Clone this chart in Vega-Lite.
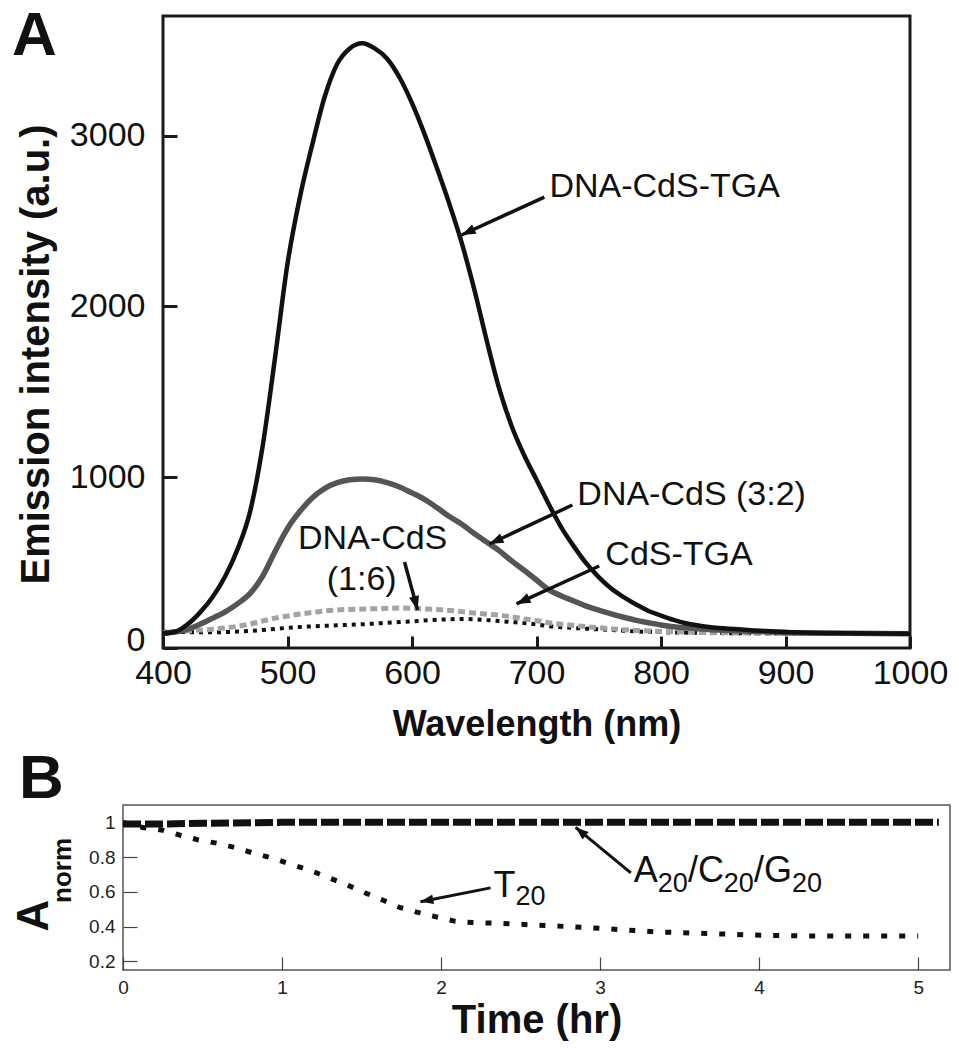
{
  "$schema": "https://vega.github.io/schema/vega-lite/v6.json",
  "background": "white",
  "padding": {"left": 10, "top": 3, "right": 5, "bottom": 5},
  "config": {"font": "Liberation Sans", "axis": {"grid": false, "domain": false}},
  "columns": 1,
  "bounds": "flush",
  "center": true,
  "spacing": 157,
  "concat": [
    {
      "width": 747,
      "height": 632,
      "view": {"stroke": "#1a1a1a", "strokeWidth": 3},
      "title": {"text": "A", "anchor": "start", "frame": "bounds", "fontSize": 62, "fontWeight": "bold", "offset": -101, "dx": -4, "baseline": "alphabetic", "color": "#111"},
      "data": {"values": [
        {"wavelength": 400, "tga": 85, "cds32": 85, "cds16": 90, "cdstga": 95},
        {"wavelength": 410, "tga": 95, "cds32": 95, "cds16": 95, "cdstga": 94},
        {"wavelength": 420, "tga": 140, "cds32": 110, "cds16": 100, "cdstga": 93},
        {"wavelength": 430, "tga": 210, "cds32": 140, "cds16": 105, "cdstga": 92},
        {"wavelength": 440, "tga": 300, "cds32": 175, "cds16": 110, "cdstga": 92},
        {"wavelength": 450, "tga": 420, "cds32": 212, "cds16": 117, "cdstga": 93},
        {"wavelength": 460, "tga": 580, "cds32": 260, "cds16": 127, "cdstga": 96},
        {"wavelength": 470, "tga": 800, "cds32": 320, "cds16": 140, "cdstga": 100},
        {"wavelength": 480, "tga": 1180, "cds32": 420, "cds16": 158, "cdstga": 105},
        {"wavelength": 490, "tga": 1700, "cds32": 565, "cds16": 175, "cdstga": 112},
        {"wavelength": 500, "tga": 2250, "cds32": 700, "cds16": 187, "cdstga": 118},
        {"wavelength": 510, "tga": 2640, "cds32": 800, "cds16": 199, "cdstga": 123},
        {"wavelength": 520, "tga": 2950, "cds32": 880, "cds16": 208, "cdstga": 127},
        {"wavelength": 530, "tga": 3230, "cds32": 935, "cds16": 217, "cdstga": 130},
        {"wavelength": 540, "tga": 3420, "cds32": 968, "cds16": 223, "cdstga": 133},
        {"wavelength": 550, "tga": 3510, "cds32": 985, "cds16": 226, "cdstga": 136},
        {"wavelength": 560, "tga": 3540, "cds32": 990, "cds16": 228, "cdstga": 139},
        {"wavelength": 570, "tga": 3510, "cds32": 985, "cds16": 230, "cdstga": 143},
        {"wavelength": 580, "tga": 3450, "cds32": 968, "cds16": 232, "cdstga": 148},
        {"wavelength": 590, "tga": 3340, "cds32": 943, "cds16": 234, "cdstga": 152},
        {"wavelength": 600, "tga": 3190, "cds32": 908, "cds16": 232, "cdstga": 156},
        {"wavelength": 610, "tga": 3010, "cds32": 870, "cds16": 229, "cdstga": 161},
        {"wavelength": 620, "tga": 2810, "cds32": 822, "cds16": 226, "cdstga": 165},
        {"wavelength": 630, "tga": 2600, "cds32": 770, "cds16": 220, "cdstga": 168},
        {"wavelength": 640, "tga": 2370, "cds32": 725, "cds16": 213, "cdstga": 170},
        {"wavelength": 650, "tga": 2100, "cds32": 670, "cds16": 205, "cdstga": 168},
        {"wavelength": 660, "tga": 1800, "cds32": 620, "cds16": 198, "cdstga": 164},
        {"wavelength": 670, "tga": 1520, "cds32": 570, "cds16": 193, "cdstga": 158},
        {"wavelength": 680, "tga": 1300, "cds32": 510, "cds16": 182, "cdstga": 152},
        {"wavelength": 690, "tga": 1130, "cds32": 455, "cds16": 170, "cdstga": 146},
        {"wavelength": 700, "tga": 985, "cds32": 398, "cds16": 160, "cdstga": 138},
        {"wavelength": 710, "tga": 840, "cds32": 340, "cds16": 148, "cdstga": 128},
        {"wavelength": 720, "tga": 705, "cds32": 305, "cds16": 139, "cdstga": 122},
        {"wavelength": 730, "tga": 595, "cds32": 275, "cds16": 132, "cdstga": 117},
        {"wavelength": 740, "tga": 495, "cds32": 245, "cds16": 125, "cdstga": 113},
        {"wavelength": 750, "tga": 415, "cds32": 222, "cds16": 119, "cdstga": 109},
        {"wavelength": 760, "tga": 348, "cds32": 200, "cds16": 112, "cdstga": 105},
        {"wavelength": 770, "tga": 298, "cds32": 180, "cds16": 107, "cdstga": 101},
        {"wavelength": 780, "tga": 255, "cds32": 162, "cds16": 103, "cdstga": 97},
        {"wavelength": 790, "tga": 217, "cds32": 148, "cds16": 100, "cdstga": 95},
        {"wavelength": 800, "tga": 190, "cds32": 135, "cds16": 97, "cdstga": 93},
        {"wavelength": 810, "tga": 165, "cds32": 125, "cds16": 95, "cdstga": 91},
        {"wavelength": 820, "tga": 145, "cds32": 118, "cds16": 93, "cdstga": 90},
        {"wavelength": 830, "tga": 132, "cds32": 112, "cds16": 91, "cdstga": 89},
        {"wavelength": 840, "tga": 122, "cds32": 107, "cds16": 90, "cdstga": 88},
        {"wavelength": 850, "tga": 115, "cds32": 104, "cds16": 89, "cdstga": 87},
        {"wavelength": 875, "tga": 103, "cds32": 97, "cds16": 87, "cdstga": 86},
        {"wavelength": 900, "tga": 94, "cds32": 91, "cds16": 86, "cdstga": 85},
        {"wavelength": 950, "tga": 87, "cds32": 86, "cds16": 85, "cdstga": 84},
        {"wavelength": 1000, "tga": 84, "cds32": 84, "cds16": 84, "cdstga": 84}
      ]},
      "encoding": {
        "x": {"field": "wavelength", "type": "quantitative",
          "scale": {"domain": [400, 1000], "nice": false, "zero": false},
          "axis": {"title": "Wavelength (nm)", "values": [400, 500, 600, 700, 800, 900, 1000], "format": "d",
            "labelFontSize": 34, "labelColor": "#111", "labelPadding": 20, "labelFlush": false, "labelOverlap": false,
            "tickSize": -12, "tickWidth": 3, "tickColor": "#1a1a1a",
            "titleFontSize": 36, "titleFontWeight": "bold", "titleColor": "#111", "titleY": 87, "titleBaseline": "alphabetic"}},
        "y": {"field": "intensity", "type": "quantitative",
          "scale": {"domain": [0, 3700], "nice": false, "zero": false},
          "axis": {"title": "Emission intensity (a.u.)", "values": [0, 1000, 2000, 3000], "format": "d",
            "labelFontSize": 34, "labelColor": "#111", "labelPadding": 32, "labelFlush": true, "labelFlushOffset": 9, "labelOverlap": false,
            "tickSize": -14, "tickWidth": 3, "tickColor": "#1a1a1a",
            "titleFontSize": 40, "titleFontWeight": "bold", "titleColor": "#111", "titleX": -115, "titleY": 338, "titleBaseline": "alphabetic", "titleAlign": "center"}}
      },
      "layer": [
        {"transform": [{"fold": ["cdstga"], "as": ["series", "intensity"]}],
         "mark": {"type": "line", "color": "#111", "strokeWidth": 4, "strokeDash": [4, 5], "interpolate": "monotone"}},
        {"transform": [{"fold": ["cds16"], "as": ["series", "intensity"]}],
         "mark": {"type": "line", "color": "#a3a3a3", "strokeWidth": 5, "strokeDash": [7, 4], "interpolate": "monotone"}},
        {"transform": [{"fold": ["cds32"], "as": ["series", "intensity"]}],
         "mark": {"type": "line", "color": "#555555", "strokeWidth": 5.5, "interpolate": "monotone"}},
        {"transform": [{"fold": ["tga"], "as": ["series", "intensity"]}],
         "mark": {"type": "line", "color": "#111", "strokeWidth": 4.5, "interpolate": "monotone"}},
        {"data": {"values": [
            {"wavelength": 706.3, "intensity": 2640, "wavelength2": 639.8, "intensity2": 2418},
            {"wavelength": 728.8, "intensity": 837, "wavelength2": 662.2, "intensity2": 609},
            {"wavelength": 750.4, "intensity": 480, "wavelength2": 683.9, "intensity2": 258},
            {"wavelength": 594, "intensity": 503, "wavelength2": 604.5, "intensity2": 222}
          ]},
         "mark": {"type": "rule", "color": "#111", "strokeWidth": 3.5},
         "encoding": {"x2": {"field": "wavelength2"}, "y2": {"field": "intensity2"}}},
        {"data": {"values": [
            {"wavelength": 639.8, "intensity": 2418},
            {"wavelength": 662.2, "intensity": 609},
            {"wavelength": 683.9, "intensity": 258}
          ]},
         "mark": {"type": "point", "shape": "M0,0 L-0.55,1.5 L0.55,1.5 Z", "filled": true, "color": "#111", "opacity": 1, "size": 350, "angle": 245}},
        {"data": {"values": [
            {"wavelength": 604.5, "intensity": 222}
          ]},
         "mark": {"type": "point", "shape": "M0,0 L-0.55,1.5 L0.55,1.5 Z", "filled": true, "color": "#111", "opacity": 1, "size": 350, "angle": 165}},
        {"data": {"values": [
            {"label": "DNA-CdS-TGA", "wavelength": 710.4, "intensity": 2640},
            {"label": "DNA-CdS (3:2)", "wavelength": 732.8, "intensity": 837},
            {"label": "CdS-TGA", "wavelength": 755.3, "intensity": 486}
          ]},
         "mark": {"type": "text", "align": "left", "baseline": "alphabetic", "fontSize": 34, "color": "#111"},
         "encoding": {"text": {"field": "label"}}},
        {"data": {"values": [
            {"label": "DNA-CdS", "wavelength": 568.4, "intensity": 580},
            {"label": "(1:6)", "wavelength": 559.6, "intensity": 340}
          ]},
         "mark": {"type": "text", "align": "center", "baseline": "alphabetic", "fontSize": 34, "color": "#111"},
         "encoding": {"text": {"field": "label"}}}
      ]
    },
    {
      "width": 827,
      "height": 165,
      "view": {"stroke": "#555", "strokeWidth": 1.5},
      "title": {"text": "B", "anchor": "start", "frame": "bounds", "fontSize": 62, "fontWeight": "bold", "offset": -55, "dx": 7, "baseline": "alphabetic", "color": "#111"},
      "resolve": {"scale": {"y": "independent"}},
      "encoding": {
        "x": {"field": "time", "type": "quantitative",
          "scale": {"domain": [0, 5.2], "nice": false, "zero": false},
          "axis": {"title": "Time (hr)", "values": [0, 1, 2, 3, 4, 5], "format": "~g",
            "labelFontSize": 19, "labelColor": "#222", "labelPadding": 21, "labelFlush": false, "labelOverlap": false,
            "tickSize": -13, "tickWidth": 1.2, "tickColor": "#444",
            "titleFontSize": 40, "titleFontWeight": "bold", "titleColor": "#111", "titleY": 62, "titleBaseline": "alphabetic"}}
      },
      "layer": [
        {
          "encoding": {
            "y": {"field": "value", "type": "quantitative",
              "scale": {"domain": [0.15, 1.1], "nice": false, "zero": false},
              "axis": {"title": "A", "values": [0.2, 0.4, 0.6, 0.8, 1], "format": "~g",
                "labelFontSize": 19, "labelColor": "#222", "labelPadding": 22, "labelFlush": false, "labelOverlap": false,
                "tickSize": -14, "tickWidth": 1.2, "tickColor": "#444",
                "titleFontSize": 44, "titleFontWeight": "bold", "titleColor": "#111", "titleX": -76, "titleY": 110, "titleBaseline": "alphabetic", "titleAlign": "center"}}
          },
          "layer": [
            {"data": {"values": [
                {"time": 0, "value": 1.0}, {"time": 0.126, "value": 0.97}, {"time": 0.25, "value": 0.955},
                {"time": 0.36, "value": 0.926}, {"time": 0.47, "value": 0.9}, {"time": 0.59, "value": 0.88},
                {"time": 0.7, "value": 0.856}, {"time": 0.82, "value": 0.823}, {"time": 0.94, "value": 0.794},
                {"time": 1.05, "value": 0.76}, {"time": 1.17, "value": 0.726}, {"time": 1.28, "value": 0.686},
                {"time": 1.41, "value": 0.64}, {"time": 1.52, "value": 0.595}, {"time": 1.64, "value": 0.55},
                {"time": 1.74, "value": 0.51}, {"time": 1.86, "value": 0.48}, {"time": 1.98, "value": 0.454},
                {"time": 2.09, "value": 0.43}, {"time": 2.2, "value": 0.423}, {"time": 2.33, "value": 0.42},
                {"time": 2.67, "value": 0.406}, {"time": 3.0, "value": 0.39}, {"time": 3.34, "value": 0.37},
                {"time": 3.68, "value": 0.36}, {"time": 4.01, "value": 0.35}, {"time": 4.35, "value": 0.346},
                {"time": 4.68, "value": 0.346}, {"time": 5.0, "value": 0.346}
              ]},
             "mark": {"type": "line", "color": "#111", "strokeWidth": 5, "strokeDash": [6, 12]}},
            {"data": {"values": [
                {"time": 2.311, "value": 0.623, "time2": 1.87, "value2": 0.543},
                {"time": 3.193, "value": 0.709, "time2": 2.846, "value2": 0.971}
              ]},
             "mark": {"type": "rule", "color": "#111", "strokeWidth": 3},
             "encoding": {"x2": {"field": "time2"}, "y2": {"field": "value2"}}},
            {"data": {"values": [{"time": 1.87, "value": 0.543}]},
             "mark": {"type": "point", "shape": "M0,0 L-0.55,1.5 L0.55,1.5 Z", "filled": true, "color": "#111", "opacity": 1, "size": 300, "angle": 259}},
            {"data": {"values": [{"time": 2.846, "value": 0.971}]},
             "mark": {"type": "point", "shape": "M0,0 L-0.55,1.5 L0.55,1.5 Z", "filled": true, "color": "#111", "opacity": 1, "size": 300, "angle": 310}},
            {"data": {"values": [
                {"label": "T", "time": 2.33, "value": 0.571},
                {"label": "A", "time": 3.212, "value": 0.657},
                {"label": "/C", "time": 3.552, "value": 0.657},
                {"label": "/G", "time": 3.967, "value": 0.657}
              ]},
             "mark": {"type": "text", "align": "left", "baseline": "alphabetic", "fontSize": 36, "color": "#111"},
             "encoding": {"text": {"field": "label"}}},
            {"data": {"values": [
                {"label": "20", "time": 2.468, "value": 0.526},
                {"label": "20", "time": 3.362, "value": 0.6},
                {"label": "20", "time": 3.778, "value": 0.6},
                {"label": "20", "time": 4.207, "value": 0.6}
              ]},
             "mark": {"type": "text", "align": "left", "baseline": "alphabetic", "fontSize": 27, "color": "#111"},
             "encoding": {"text": {"field": "label"}}}
          ]
        },
        {
          "data": {"values": [
            {"time": 0, "value": 0.99}, {"time": 0.25, "value": 0.99}, {"time": 0.5, "value": 0.995},
            {"time": 1, "value": 1.0}, {"time": 1.5, "value": 1.0}, {"time": 2, "value": 1.0},
            {"time": 2.5, "value": 1.0}, {"time": 3, "value": 1.0}, {"time": 3.5, "value": 1.0},
            {"time": 4, "value": 1.0}, {"time": 4.5, "value": 1.0}, {"time": 5.13, "value": 1.0}
          ]},
          "mark": {"type": "line", "color": "#111", "strokeWidth": 7, "strokeDash": [18, 4]},
          "encoding": {
            "y": {"field": "value", "type": "quantitative", "scale": {"domain": [0.15, 1.1], "nice": false, "zero": false},
              "axis": {"orient": "left", "title": "norm", "labels": false, "ticks": false, "domain": false,
                "titleFontSize": 26, "titleFontWeight": "bold", "titleColor": "#111", "titleX": -53, "titleY": 65, "titleBaseline": "alphabetic", "titleAlign": "center"}}
          }
        }
      ]
    }
  ]
}
